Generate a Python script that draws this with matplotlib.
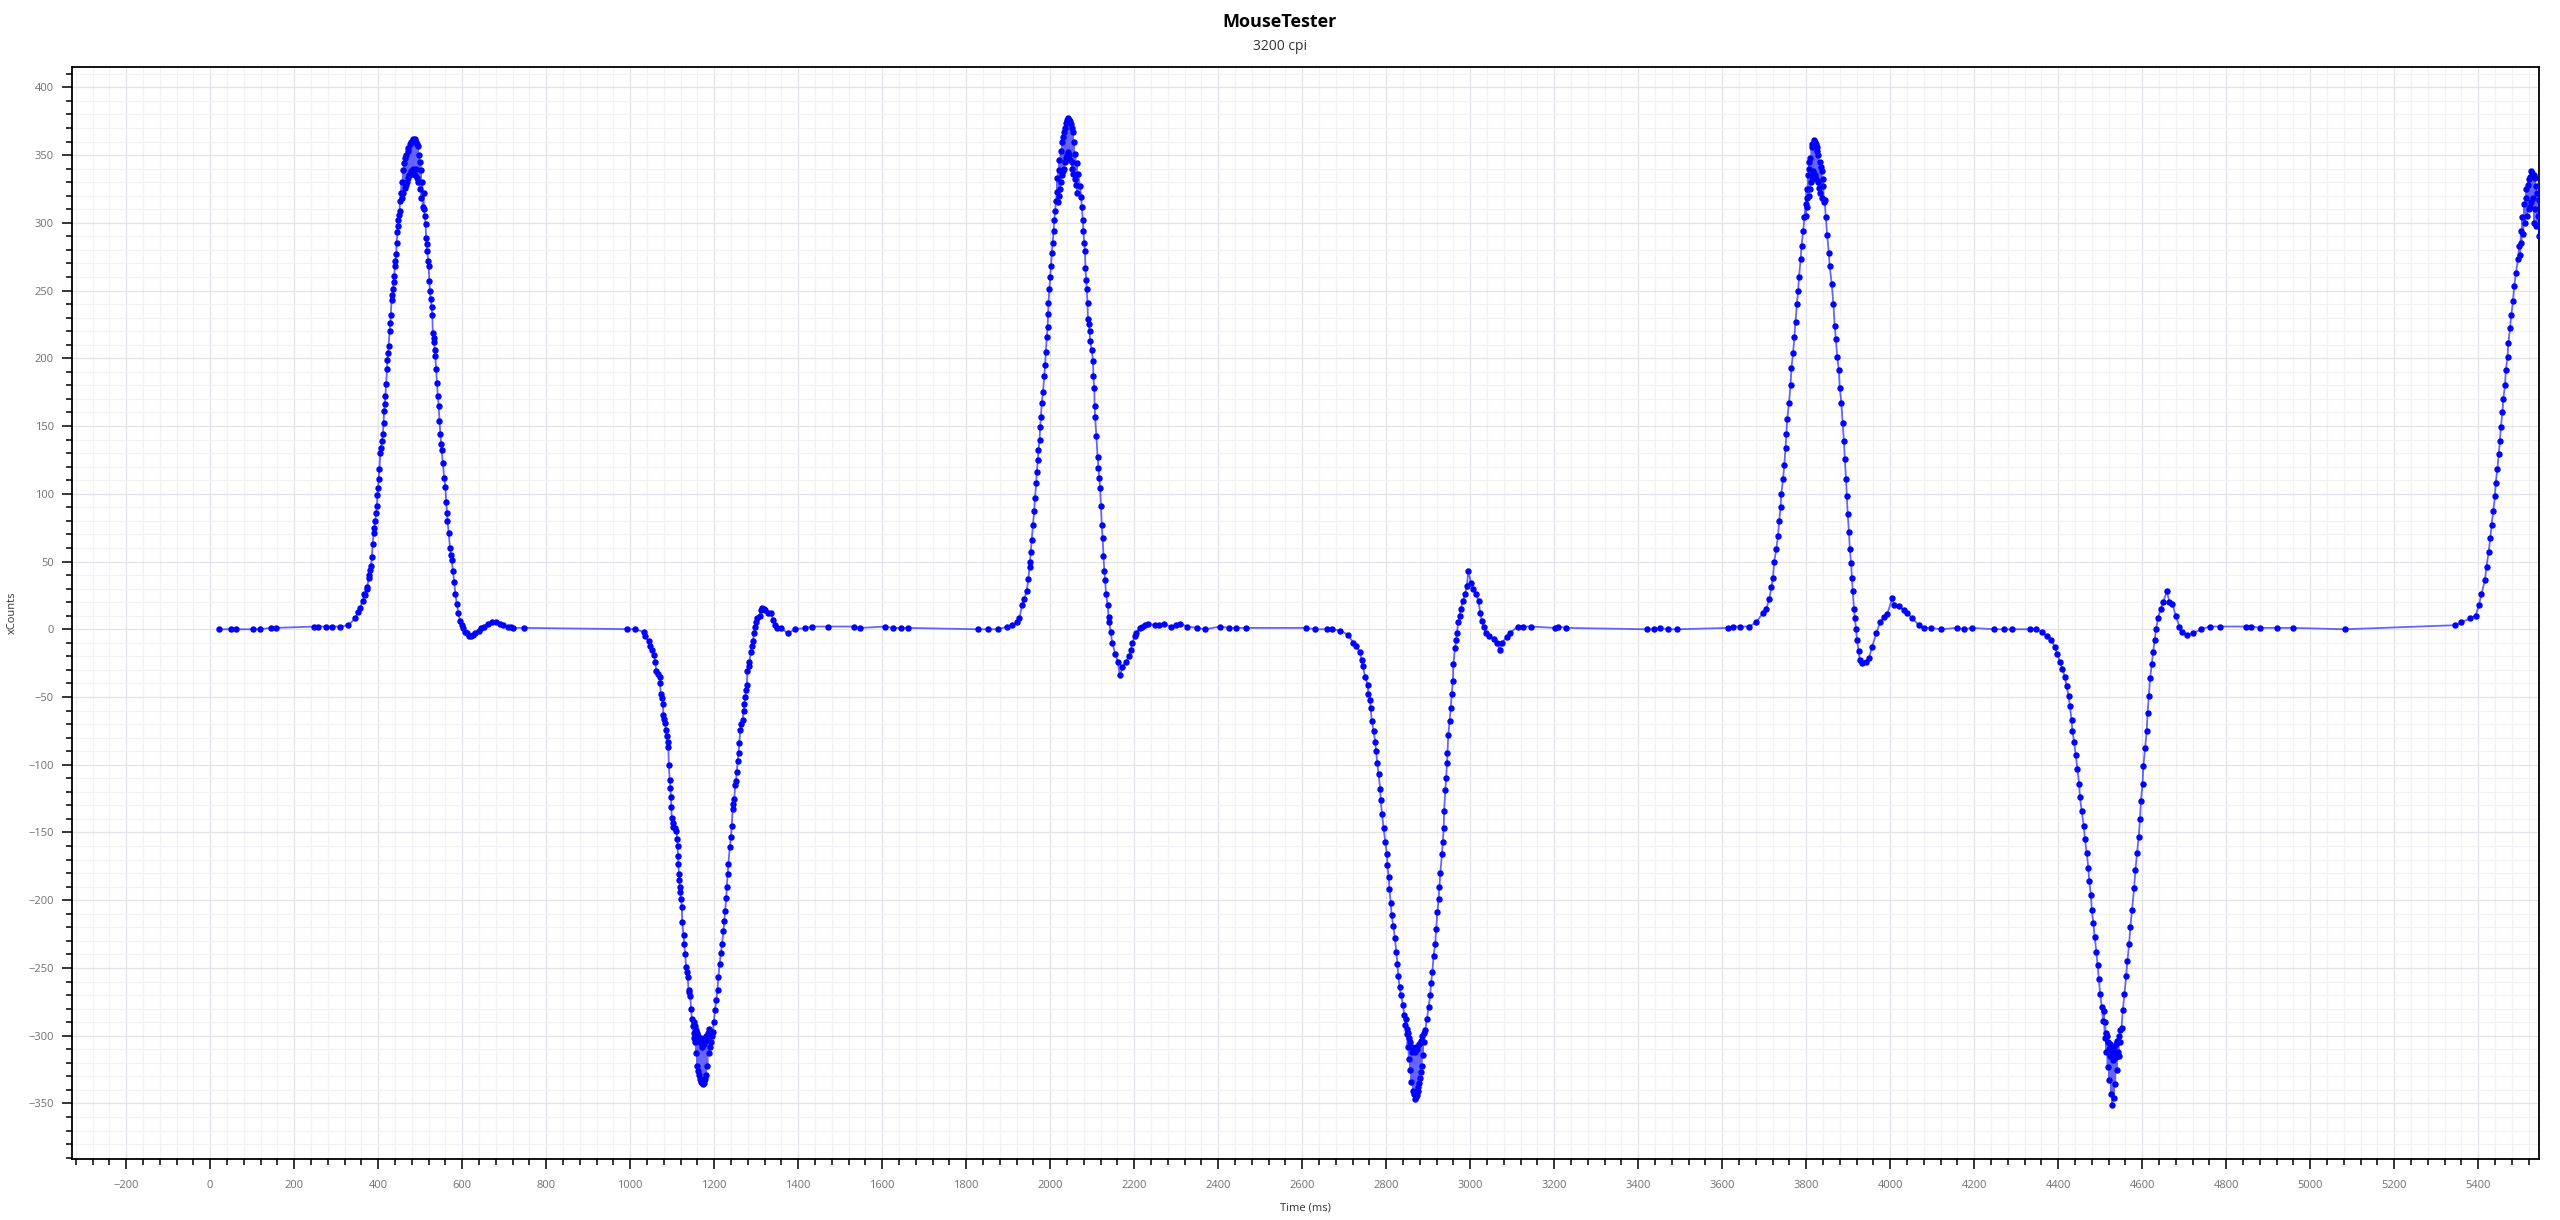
import numpy as np
import matplotlib.pyplot as plt
from matplotlib.ticker import MultipleLocator

plt.rcParams['font.family'] = ['Open Sans', 'DejaVu Sans']

# lead-in, resting
t_lead = [21, 49, 61, 102, 118, 145, 156, 248, 256, 276, 290, 309, 329]
v_lead = [0, 0, 0, 0, 0, 1, 1, 2, 2, 2, 2, 2, 3]

# first right swipe
t_peak1 = [345, 352, 357, 363, 367, 369, 373, 374, 377, 378, 381, 383, 385, 387, 389, 391, 393, 395,
           397, 398, 400, 401, 403, 405, 407, 409, 411, 413, 414, 416, 417, 419, 421, 422, 424, 425,
           427, 429, 430, 432, 434, 435, 437, 438, 440, 441, 443, 444, 446, 447, 448, 450, 451, 452,
           454, 456, 457, 459, 460, 462, 463, 465, 466, 467, 469, 470, 471, 472, 474, 476, 477, 479,
           480, 482, 483, 484, 486, 487, 488, 489, 491, 492, 493, 494, 496, 498, 499, 500, 502, 503,
           505, 506, 508, 509, 511, 513, 514, 516, 517, 519, 520, 522, 523, 525, 527, 529, 530, 532,
           533, 535, 536, 538, 540, 542, 544, 546, 548, 550, 551, 554, 557, 560, 562, 564, 565, 568,
           571, 573, 575, 578, 581, 584, 587, 591, 595, 599, 603, 607, 611, 616, 621, 626, 631, 639,
           645, 651, 661, 671, 680, 689, 698, 708, 716, 722, 748, 992, 1012]
v_peak1 = [8, 13, 16, 21, 26, 25, 31, 30, 38, 40, 44, 47, 53, 63, 71, 75, 80, 86,
           91, 99, 104, 111, 118, 130, 134, 139, 144, 152, 161, 166, 172, 181, 192, 199, 204, 209,
           220, 226, 232, 243, 247, 251, 256, 261, 268, 272, 277, 285, 293, 298, 302, 306, 309, 316,
           322, 330, 318, 339, 322, 344, 326, 348, 328, 350, 330, 353, 333, 355, 335, 358, 338, 360,
           336, 362, 340, 361, 338, 362, 335, 360, 340, 358, 333, 357, 330, 350, 325, 345, 339, 318,
           330, 312, 322, 310, 305, 299, 289, 284, 279, 272, 268, 257, 250, 244, 238, 232, 219, 215,
           212, 206, 202, 192, 182, 172, 165, 154, 144, 137, 132, 123, 112, 105, 94, 86, 80, 71,
           60, 55, 51, 43, 35, 26, 19, 12, 6, 3, 1, -2, -3, -5, -5, -4, -3, -1,
           1, 2, 4, 5, 5, 4, 3, 2, 2, 1, 1, 0, 0]

# first left swipe
t_trough1 = [1032, 1036, 1044, 1048, 1052, 1056, 1060, 1062, 1066, 1070, 1071, 1073, 1076, 1078, 1079,
             1081, 1083, 1085, 1087, 1089, 1091, 1092, 1094, 1096, 1097, 1098, 1099, 1101, 1103, 1106,
             1110, 1112, 1113, 1114, 1115, 1116, 1117, 1118, 1119, 1121, 1123, 1124, 1127, 1129, 1131,
             1133, 1135, 1137, 1139, 1141, 1143, 1145, 1147, 1149, 1151, 1152, 1153, 1154, 1155, 1156,
             1157, 1158, 1160, 1161, 1162, 1163, 1164, 1166, 1167, 1168, 1169, 1170, 1171, 1172, 1174,
             1175, 1176, 1177, 1179, 1180, 1181, 1182, 1184, 1185, 1187, 1188, 1190, 1192, 1194, 1197,
             1199, 1202, 1205, 1208, 1210, 1213, 1216, 1219, 1222, 1224, 1226, 1229, 1230, 1232, 1234,
             1237, 1240, 1242, 1244, 1246, 1248, 1250, 1252, 1254, 1256, 1258, 1260, 1262, 1265, 1268,
             1270, 1272, 1274, 1276, 1278, 1279, 1282, 1284, 1287, 1290, 1292, 1295, 1298, 1300, 1303,
             1308, 1312, 1314, 1318, 1321, 1328, 1335, 1341, 1345, 1349, 1359, 1375, 1393, 1417, 1434,
             1472, 1532, 1548, 1607, 1625, 1645, 1661, 1829, 1852, 1877]
v_trough1 = [-2, -5, -9, -12, -15, -19, -24, -31, -33, -35, -40, -48, -51, -55, -63,
             -66, -69, -74, -79, -83, -87, -100, -111, -117, -124, -131, -139, -143, -146, -147,
             -149, -155, -160, -167, -173, -181, -185, -190, -194, -199, -205, -216, -226, -232, -240,
             -249, -253, -257, -266, -268, -271, -280, -288, -293, -298, -290, -302, -293, -305, -296,
             -313, -298, -322, -300, -326, -303, -329, -305, -332, -302, -334, -306, -335, -308, -336,
             -304, -335, -306, -332, -300, -329, -303, -322, -298, -313, -295, -308, -305, -300, -297,
             -290, -281, -274, -266, -257, -247, -239, -232, -223, -215, -208, -198, -190, -181, -173,
             -161, -153, -145, -133, -129, -125, -115, -112, -105, -97, -91, -84, -74, -70, -67,
             -60, -55, -50, -45, -41, -31, -27, -24, -17, -12, -9, -3, 2, 5, 8,
             10, 14, 16, 15, 14, 12, 12, 7, 3, 1, 1, -3, 0, 1, 2,
             2, 2, 1, 2, 1, 1, 1, 0, 0, 0]

# second right swipe
t_peak2 = [1898, 1909, 1920, 1927, 1933, 1938, 1944, 1948, 1951, 1952, 1954, 1956, 1959, 1962, 1964,
           1967, 1968, 1971, 1972, 1975, 1976, 1978, 1980, 1983, 1986, 1988, 1990, 1992, 1994, 1995,
           1996, 1998, 2000, 2002, 2004, 2006, 2008, 2010, 2012, 2014, 2016, 2017, 2018, 2020, 2021,
           2022, 2023, 2025, 2026, 2028, 2029, 2030, 2031, 2032, 2033, 2035, 2036, 2037, 2038, 2040,
           2041, 2042, 2043, 2045, 2046, 2047, 2048, 2050, 2051, 2052, 2053, 2054, 2055, 2057, 2058,
           2060, 2061, 2063, 2065, 2067, 2071, 2074, 2075, 2078, 2079, 2081, 2083, 2084, 2086, 2087,
           2089, 2090, 2092, 2094, 2095, 2099, 2102, 2103, 2105, 2106, 2107, 2110, 2113, 2115, 2117,
           2119, 2121, 2123, 2125, 2127, 2129, 2131, 2133, 2137, 2139, 2141, 2144, 2148, 2155, 2161,
           2166, 2172, 2180, 2188, 2192, 2196, 2201, 2205, 2213, 2218, 2226, 2234, 2250, 2260, 2270,
           2287, 2300, 2310, 2327, 2349, 2369, 2405, 2425, 2443, 2467, 2610, 2631, 2659, 2671, 2691]
v_peak2 = [2, 3, 5, 8, 18, 22, 28, 37, 46, 50, 57, 66, 77, 87, 97,
           108, 116, 125, 132, 140, 149, 157, 167, 175, 187, 195, 205, 216, 223, 233,
           241, 251, 260, 268, 278, 285, 294, 302, 309, 316, 323, 333, 315, 339, 320,
           346, 325, 353, 330, 360, 335, 363, 338, 367, 340, 370, 345, 374, 348, 376,
           350, 377, 352, 376, 350, 375, 346, 373, 345, 370, 340, 367, 336, 360, 332,
           351, 328, 344, 322, 336, 327, 319, 312, 302, 294, 285, 279, 267, 258, 251,
           241, 229, 225, 220, 213, 206, 198, 187, 178, 165, 157, 143, 127, 119, 112,
           104, 91, 77, 67, 54, 43, 36, 26, 18, 9, 5, -2, -10, -18, -24,
           -34, -28, -24, -20, -15, -10, -5, -3, 1, 2, 3, 4, 3, 3, 4,
           2, 3, 4, 2, 1, 0, 2, 1, 1, 1, 1, 0, 0, 0, -1]

# second left swipe
t_trough2 = [2709, 2722, 2729, 2737, 2742, 2744, 2750, 2756, 2758, 2762, 2763, 2766, 2770, 2774, 2776,
             2779, 2782, 2786, 2787, 2790, 2794, 2798, 2802, 2803, 2806, 2808, 2811, 2813, 2817, 2821,
             2824, 2827, 2829, 2832, 2835, 2840, 2843, 2846, 2847, 2849, 2850, 2851, 2852, 2854, 2855,
             2857, 2858, 2860, 2861, 2862, 2864, 2865, 2866, 2868, 2869, 2870, 2871, 2873, 2874, 2875,
             2877, 2878, 2879, 2881, 2882, 2883, 2885, 2886, 2887, 2889, 2890, 2893, 2897, 2901, 2905,
             2907, 2910, 2913, 2917, 2919, 2922, 2925, 2927, 2929, 2933, 2935, 2937, 2938, 2941, 2943,
             2945, 2946, 2948, 2951, 2954, 2956, 2959, 2960, 2964, 2967, 2968, 2972, 2975, 2978, 2983,
             2988, 2992, 2996, 3002, 3008, 3014, 3020, 3024, 3028, 3032, 3038, 3046, 3056, 3065, 3070,
             3075, 3087, 3094, 3113, 3127, 3144, 3202, 3210, 3229, 3421, 3437, 3451, 3471, 3492, 3615,
             3627, 3643, 3663]
v_trough2 = [-4, -10, -12, -17, -23, -27, -35, -41, -48, -52, -58, -68, -75, -83, -90,
             -99, -107, -118, -126, -136, -147, -157, -166, -174, -183, -192, -202, -211, -219, -228,
             -238, -247, -256, -264, -270, -277, -285, -292, -288, -299, -295, -308, -298, -317, -302,
             -325, -305, -334, -308, -312, -341, -310, -343, -347, -312, -345, -308, -344, -310, -341,
             -338, -306, -335, -331, -304, -327, -322, -300, -314, -298, -305, -296, -288, -279, -270,
             -261, -253, -241, -232, -221, -209, -199, -190, -180, -166, -157, -147, -134, -119, -110,
             -99, -91, -78, -68, -58, -48, -38, -26, -14, -8, -3, 5, 10, 15, 21,
             26, 32, 43, 34, 30, 26, 21, 12, 6, 2, -3, -5, -7, -10, -15,
             -10, -6, -3, 2, 2, 2, 1, 2, 1, 0, 0, 1, 0, 0, 1,
             2, 2, 2]

# third right swipe
t_peak3 = [3681, 3697, 3705, 3712, 3717, 3721, 3724, 3729, 3733, 3736, 3739, 3741, 3745, 3748, 3751,
           3753, 3755, 3759, 3763, 3765, 3769, 3772, 3775, 3778, 3781, 3783, 3787, 3789, 3793, 3796,
           3799, 3800, 3801, 3802, 3803, 3805, 3806, 3807, 3808, 3809, 3810, 3812, 3813, 3814, 3815,
           3817, 3818, 3819, 3820, 3822, 3823, 3824, 3825, 3827, 3828, 3829, 3830, 3832, 3833, 3835,
           3837, 3838, 3839, 3841, 3842, 3844, 3847, 3850, 3854, 3856, 3861, 3865, 3868, 3871, 3874,
           3878, 3880, 3884, 3887, 3890, 3892, 3895, 3897, 3899, 3902, 3904, 3907, 3909, 3911, 3914,
           3916, 3919, 3921, 3925, 3928, 3933, 3943, 3950, 3957, 3967, 3976, 3985, 3993, 4005, 4009,
           4021, 4033, 4041, 4053, 4069, 4080, 4098, 4120, 4159, 4176, 4195, 4248, 4272, 4290, 4332,
           4348]
v_peak3 = [5, 12, 15, 22, 31, 38, 50, 59, 69, 80, 90, 100, 111, 121, 134,
           144, 155, 167, 180, 193, 204, 216, 227, 240, 250, 260, 273, 283, 294, 304,
           314, 305, 325, 312, 318, 335, 320, 340, 345, 325, 348, 330, 356, 334, 358,
           338, 361, 336, 360, 335, 358, 332, 356, 353, 330, 350, 326, 345, 322, 341,
           338, 318, 332, 327, 315, 317, 304, 291, 278, 268, 255, 240, 224, 214, 201,
           191, 178, 167, 152, 139, 126, 111, 98, 85, 72, 59, 49, 38, 28, 15,
           8, 0, -8, -16, -23, -25, -24, -21, -13, -3, 5, 9, 11, 23, 18,
           17, 14, 12, 8, 3, 1, 1, 0, 1, 0, 1, 0, 0, 0, 0,
           0]

# third left swipe
t_trough3 = [4362, 4374, 4384, 4392, 4398, 4404, 4410, 4416, 4420, 4425, 4428, 4432, 4434, 4438, 4442,
             4446, 4450, 4452, 4456, 4461, 4464, 4468, 4472, 4474, 4478, 4480, 4484, 4487, 4491, 4494,
             4497, 4500, 4504, 4507, 4509, 4511, 4512, 4513, 4515, 4516, 4518, 4519, 4520, 4522, 4523,
             4524, 4526, 4527, 4529, 4530, 4531, 4533, 4534, 4536, 4537, 4538, 4540, 4541, 4542, 4544,
             4545, 4547, 4548, 4551, 4554, 4558, 4562, 4565, 4569, 4572, 4576, 4581, 4584, 4588, 4592,
             4595, 4597, 4601, 4603, 4607, 4611, 4613, 4616, 4619, 4623, 4626, 4630, 4633, 4638, 4644,
             4650, 4659, 4665, 4672, 4680, 4689, 4696, 4708, 4722, 4740, 4761, 4785, 4848, 4860, 4881,
             4920, 4960, 5084]
v_trough3 = [-2, -5, -8, -13, -18, -24, -29, -35, -42, -49, -57, -67, -75, -83, -93,
             -103, -114, -124, -134, -145, -155, -165, -176, -186, -196, -207, -217, -227, -238, -248,
             -258, -269, -279, -289, -282, -302, -290, -298, -312, -300, -323, -305, -310, -333, -306,
             -315, -343, -310, -351, -318, -312, -346, -308, -336, -316, -306, -325, -304, -312, -315,
             -300, -305, -296, -294, -281, -269, -256, -245, -232, -220, -207, -191, -178, -165, -153,
             -140, -127, -114, -101, -88, -75, -62, -49, -36, -26, -17, -8, 0, 8, 15,
             20, 28, 20, 19, 10, 2, -2, -4, -3, 0, 2, 2, 2, 2, 1,
             1, 1, 0]

# fourth right swipe, cut at the right edge
t_peak4 = [5346, 5360, 5380, 5394, 5402, 5408, 5416, 5420, 5425, 5429, 5432, 5436, 5440, 5442, 5446,
           5449, 5452, 5454, 5458, 5460, 5464, 5466, 5470, 5472, 5476, 5479, 5483, 5486, 5490, 5495,
           5498, 5500, 5502, 5503, 5505, 5507, 5510, 5511, 5513, 5515, 5516, 5518, 5520, 5521, 5523,
           5524, 5526, 5527, 5529, 5530, 5532, 5533, 5535, 5536, 5538, 5539, 5541, 5542, 5544, 5545]
v_peak4 = [3, 5, 8, 10, 18, 26, 36, 46, 57, 67, 77, 87, 98, 108, 118,
           129, 139, 149, 160, 170, 180, 191, 201, 211, 222, 232, 242, 253, 263, 273,
           283, 276, 294, 285, 304, 292, 314, 300, 318, 325, 305, 328, 332, 310, 334,
           312, 338, 315, 337, 318, 335, 300, 333, 310, 327, 298, 322, 305, 317, 290]

time_ms = np.array(t_lead + t_peak1 + t_trough1 + t_peak2 + t_trough2 + t_peak3 + t_trough3 + t_peak4)
x_counts = np.array(v_lead + v_peak1 + v_trough1 + v_peak2 + v_trough2 + v_peak3 + v_trough3 + v_peak4)

fig = plt.figure(figsize=(25.6, 12.2), dpi=100)
ax = fig.add_axes([72 / 2560, 61 / 1220, 2467 / 2560, 1092 / 1220])

ax.plot(time_ms, x_counts, color=(0, 0, 1, 0.6), lw=1.3, zorder=3)
ax.plot(time_ms, x_counts, ls='none', marker='o', ms=3.6, color='#0000ff', mec='#0000ff', zorder=4)

ax.set_xlim(-329, 5545)
ax.set_ylim(-391, 415)
ax.xaxis.set_major_locator(MultipleLocator(200))
ax.xaxis.set_minor_locator(MultipleLocator(40))
ax.yaxis.set_major_locator(MultipleLocator(50))
ax.yaxis.set_minor_locator(MultipleLocator(10))

ax.set_axisbelow(True)
ax.grid(which='major', color='#e2e2ea', lw=0.9)
ax.grid(which='minor', color='#f2f2f5', lw=0.9)

for sp in ax.spines.values():
    sp.set_color('black')
    sp.set_linewidth(1.3)

ax.tick_params(which='major', direction='out', length=7, width=1.1, color='black',
               labelsize=8, labelcolor='#707070')
ax.tick_params(which='minor', direction='out', length=4.5, width=1.1, color='black')
ax.tick_params(axis='x', which='major', pad=8)
ax.tick_params(axis='y', which='major', pad=6)

ax.set_xlabel('Time (ms)', fontsize=8, color='#333333')
ax.set_ylabel('xCounts', fontsize=8, color='#333333')
ax.xaxis.set_label_coords(0.5, -44 / 1092)
ax.yaxis.set_label_coords(-54 / 2467, 0.5)

fig.text(0.5, 1 - 22 / 1220, 'MouseTester', ha='center', va='center', fontsize=13, fontweight='bold')
fig.text(0.5, 1 - 46 / 1220, '3200 cpi', ha='center', va='center', fontsize=10, color='#333333')

fig.savefig('out.png', dpi=100)
